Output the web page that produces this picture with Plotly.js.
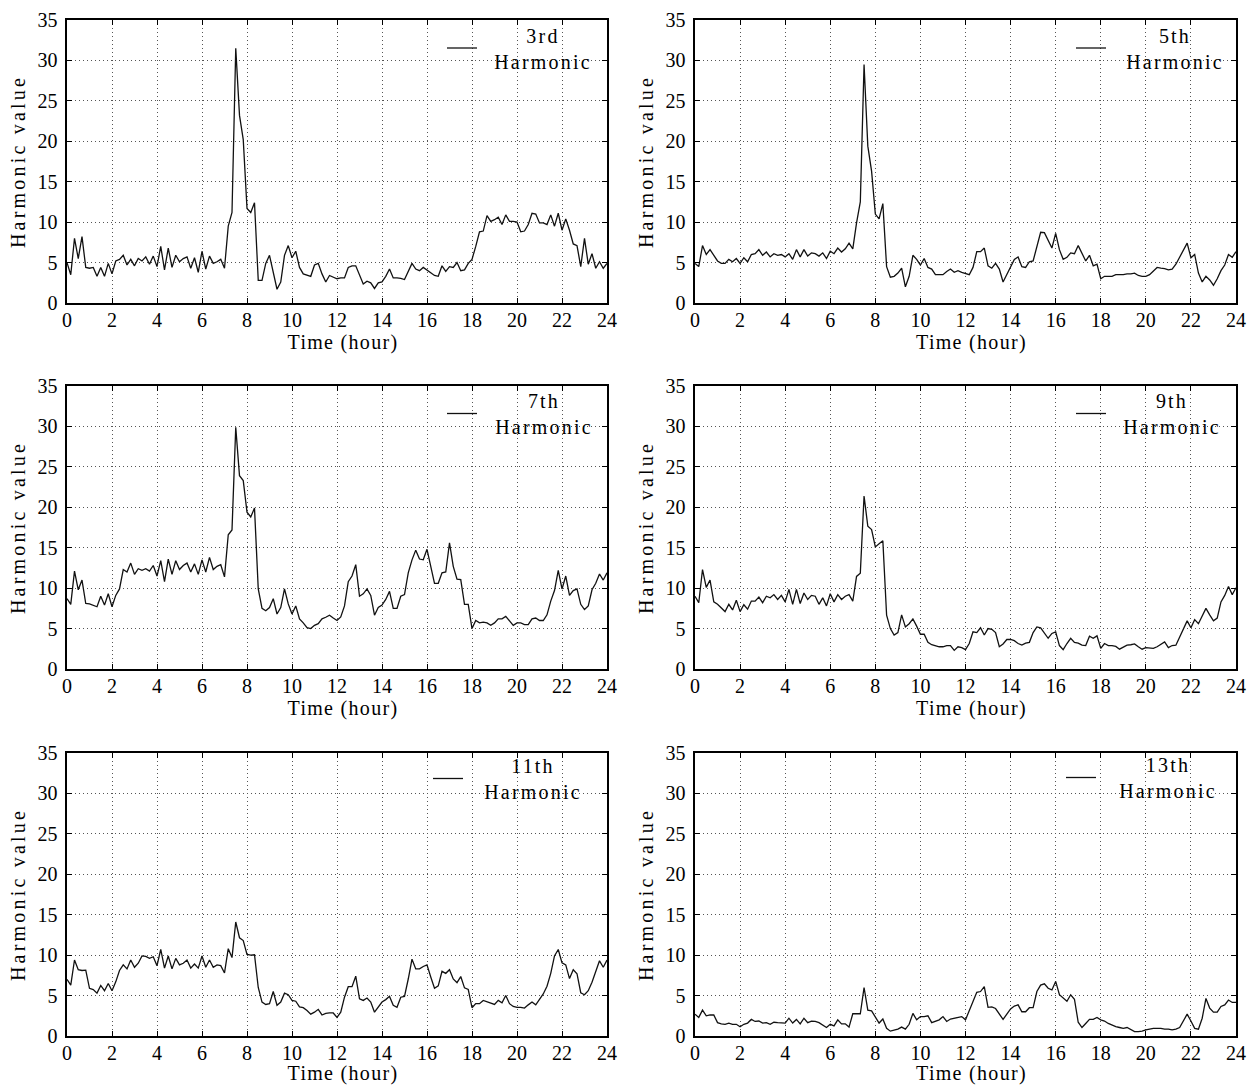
<!DOCTYPE html>
<html><head><meta charset="utf-8">
<script src="https://cdn.plot.ly/plotly-3.0.1.min.js"></script>
<style>
html,body{margin:0;padding:0;background:#fff}
#chart{width:1247px;height:1085px}
text[class^="x"][class$="title"]{letter-spacing:1.3px;transform:translateX(6px)}
text[class^="y"][class$="title"]{letter-spacing:3.2px}
</style></head><body><div id="chart"></div><script>
// time axis: 10-minute samples over 24 hours
const N = 145;
const hours = Array.from({length: N}, (_, i) => i / 6);

const names = ['3rd', '5th', '7th', '9th', '11th', '13th'];

const h3 = [5.0,3.5,8.0,5.5,8.2,4.4, 4.3,4.4,3.3,4.4,3.3,4.9,
 3.6,5.2,5.4,5.9,4.7,5.4, 4.6,5.5,5.2,5.7,4.8,5.8,
 4.5,7.0,4.1,6.8,4.4,5.9, 5.1,5.5,5.7,4.3,5.6,3.8,
 6.4,4.2,5.8,4.9,5.1,5.4, 4.3,9.5,11.2,31.5,23.2,20.2,
 11.7,11.2,12.4,2.8,2.8,4.9, 5.9,3.8,1.7,2.6,5.9,7.1,
 5.6,6.4,4.4,3.6,3.4,3.3, 4.7,4.9,3.6,2.6,3.4,3.2,
 3.0,3.1,3.1,4.4,4.6,4.6, 3.5,2.35,2.7,2.5,1.8,2.5,
 2.6,3.3,4.2,3.1,3.1,3.05, 2.9,3.9,4.9,4.2,4.0,4.4,
 4.1,3.8,3.4,3.3,4.6,3.9, 4.5,4.4,5.0,4.0,4.1,4.9,
 5.4,7.0,8.8,8.9,10.8,10.1, 10.3,10.6,9.7,10.9,10.1,10.1,
 10.0,8.8,8.9,9.7,11.1,11.0, 9.9,9.9,9.7,10.9,9.5,11.1,
 9.0,10.4,9.0,7.3,7.1,4.5, 8.0,4.8,6.1,4.3,5.1,4.3,
 4.9];

const h5 = [4.9,4.5,7.1,6.0,6.6,5.9, 5.2,4.9,4.9,5.4,5.1,5.5,
 4.9,5.6,5.1,6.0,6.1,6.6, 5.9,6.3,5.7,6.1,5.9,6.0,
 5.7,6.1,5.4,6.6,5.7,6.6, 5.8,6.2,6.1,5.8,6.2,5.5,
 6.4,6.1,6.8,6.3,6.7,7.4, 6.7,9.9,12.5,29.5,19.4,16.3,
 11.0,10.4,12.3,4.5,3.2,3.3, 3.7,4.3,2.0,3.3,5.9,5.4,
 4.7,5.5,4.4,4.2,3.5,3.5, 3.5,3.9,4.2,3.8,4.0,3.8,
 3.6,3.5,4.4,6.35,6.35,6.8, 4.6,4.3,4.9,4.2,2.6,3.5,
 4.6,5.4,5.7,4.5,4.4,5.1, 5.2,7.0,8.75,8.7,7.8,6.8,
 8.6,6.6,5.4,5.65,6.2,6.1, 7.1,6.1,5.2,5.9,4.6,4.8,
 3.0,3.3,3.3,3.3,3.5,3.5, 3.5,3.6,3.6,3.7,3.4,3.3,
 3.3,3.5,4.0,4.4,4.3,4.25, 4.1,4.2,4.8,5.7,6.4,7.4,
 5.6,6.0,3.7,2.6,3.3,2.85, 2.2,3.0,4.0,4.7,6.0,5.65,
 6.35];

const h7 = [8.7,8.0,12.1,9.8,11.0,8.1, 8.05,7.9,7.7,9.0,7.9,9.3,
 7.7,9.1,9.9,12.3,12.0,13.1, 11.7,12.4,12.2,12.4,12.1,12.8,
 11.5,13.4,10.8,13.6,11.7,13.4, 12.3,12.8,13.1,12.0,13.0,11.7,
 13.5,12.0,13.8,12.3,12.7,12.9, 11.4,16.6,17.2,29.9,23.9,23.3,
 19.4,18.8,19.9,9.9,7.5,7.2, 7.6,8.7,6.8,7.6,9.9,8.05,
 6.8,7.8,6.2,5.7,5.1,5.0, 5.4,5.6,6.2,6.4,6.65,6.3,
 6.0,6.45,7.8,10.8,11.5,12.9, 9.0,9.3,9.9,9.1,6.65,7.6,
 7.9,8.6,9.6,7.5,7.5,9.0, 9.2,11.9,13.5,14.7,13.6,13.5,
 14.8,12.7,10.6,10.6,11.9,12.0, 15.6,12.7,11.1,11.05,8.0,8.0,
 5.0,6.0,5.7,5.8,5.7,5.4, 5.7,6.2,6.2,6.5,5.9,5.4,
 5.7,5.7,5.5,5.5,6.2,6.3, 6.0,6.0,6.7,8.4,9.7,12.2,
 9.9,11.5,9.1,9.7,9.9,8.0, 7.35,7.8,9.8,10.6,11.75,11.0,
 11.9];

const h9 = [9.0,8.2,12.3,10.1,11.0,8.3, 8.0,7.5,7.1,8.0,7.3,8.5,
 7.1,7.95,7.4,8.4,8.4,8.9, 8.2,9.0,8.8,9.2,8.6,9.1,
 8.3,9.85,8.0,9.85,8.1,9.4, 8.6,9.1,9.0,8.0,8.8,7.8,
 9.3,8.3,9.2,8.6,9.0,9.2, 8.4,11.45,11.85,21.4,17.65,17.25,
 15.1,15.5,15.85,6.65,5.0,4.2, 4.5,6.7,5.2,5.6,6.2,5.3,
 4.3,4.3,3.3,3.0,2.9,2.75, 2.75,2.9,2.9,2.3,2.75,2.65,
 2.4,3.15,4.6,4.5,5.1,4.2, 5.0,4.9,4.5,2.75,3.1,3.65,
 3.65,3.5,3.15,2.95,3.2,3.3, 4.5,5.2,5.1,4.4,3.8,4.4,
 4.6,2.9,2.4,3.15,3.8,3.3, 3.2,2.95,2.9,4.05,3.8,4.1,
 2.55,3.15,2.9,2.9,2.8,2.45, 2.75,2.95,3.0,3.1,2.75,2.45,
 2.65,2.6,2.55,2.75,3.1,3.35, 2.65,2.9,2.95,3.9,5.0,5.95,
 5.1,6.1,5.6,6.65,7.5,6.7, 5.95,6.3,8.3,9.1,10.2,9.2,
 10.05];

const h11 = [7.0,6.3,9.4,8.2,8.1,8.15, 5.9,5.75,5.3,6.25,5.6,6.5,
 5.6,6.7,8.1,8.8,8.3,9.4, 8.5,9.0,9.9,9.85,9.6,9.8,
 8.7,10.7,8.4,9.9,8.3,9.6, 8.8,9.0,9.4,8.4,8.9,8.4,
 9.9,8.5,9.4,8.5,8.8,8.7, 7.8,10.8,9.7,14.1,12.15,11.8,
 10.1,10.0,10.05,6.0,4.2,3.9, 4.0,5.5,3.8,4.2,5.3,5.1,
 4.4,4.3,3.6,3.5,3.15,2.7, 2.95,3.3,2.6,2.8,2.85,2.85,
 2.3,2.95,4.8,6.1,6.1,7.4, 4.6,4.4,4.7,4.2,2.95,3.55,
 4.2,4.5,4.9,3.8,3.55,4.8, 4.9,7.05,9.5,8.3,8.3,8.6,
 8.8,7.3,5.9,6.2,8.0,7.75, 8.2,7.05,6.6,7.35,5.95,5.75,
 3.5,4.0,4.0,4.4,4.2,4.1, 3.9,4.4,4.1,5.0,4.0,3.65,
 3.55,3.55,3.45,3.85,4.2,3.85, 4.5,5.2,6.15,7.75,9.9,10.7,
 9.05,8.8,7.1,8.2,7.7,5.35, 5.1,5.6,6.65,8.0,9.3,8.5,
 9.4];

const h13 = [2.7,2.3,3.2,2.5,2.6,2.6, 1.65,1.5,1.45,1.6,1.45,1.45,
 1.15,1.45,1.6,2.05,1.8,1.85, 1.6,1.65,1.45,1.7,1.65,1.65,
 1.6,2.2,1.6,2.05,1.5,2.2, 1.65,1.85,1.8,1.65,1.35,1.05,
 1.45,1.25,2.0,1.5,1.5,1.1, 2.75,2.75,2.75,6.0,3.2,3.1,
 2.4,1.6,2.1,0.95,0.6,0.7, 0.85,1.1,0.85,1.45,2.8,2.0,
 2.4,2.4,2.5,1.65,1.8,2.0, 2.4,1.8,2.1,2.2,2.3,2.4,
 2.0,3.1,4.3,5.4,5.5,6.1, 3.55,3.6,3.4,2.8,2.05,2.7,
 3.35,3.7,3.85,3.0,3.0,3.5, 3.5,5.5,6.3,6.45,5.9,5.7,
 6.75,5.1,4.7,4.3,5.1,4.55, 1.7,1.05,1.55,2.05,2.05,2.3,
 2.0,1.85,1.55,1.3,1.15,1.05, 0.95,1.05,0.75,0.55,0.55,0.6,
 0.75,0.85,0.95,0.95,0.95,0.85, 0.85,0.75,0.85,1.05,1.85,2.7,
 1.85,0.95,0.85,2.2,4.65,3.45, 2.95,2.95,3.65,3.85,4.45,4.15,
 4.15];

const series = [h3, h5, h7, h9, h11, h13];

const FONT = 'Liberation Serif, Times New Roman, serif';
const W = 1247, H = 1085;
// plot-area boxes in pixels: [left, right, top, bottom]
const boxes = [
  [67, 607, 20, 303], [695, 1236, 20, 303],
  [67, 607, 386, 669], [695, 1236, 386, 669],
  [67, 607, 753, 1036], [695, 1236, 753, 1036]
];
// legend anchor (line start x, line y) in pixels, and text centre offset
const legendPos = [[447, 46.5], [1076, 46.5], [447, 412], [1076, 412], [433, 777], [1066, 776]];
const legendTextShift = [61, 64, 62, 61, 65, 67];

const traces = [];
const layout = {
  width: W, height: H,
  margin: {l: 0, r: 0, t: 0, b: 0},
  paper_bgcolor: '#fff', plot_bgcolor: '#fff',
  font: {family: FONT, size: 20, color: '#000'},
  showlegend: true
};

series.forEach((vals, k) => {
  const n = k + 1;
  const sx = n === 1 ? '' : String(n);
  const legName = n === 1 ? 'legend' : 'legend' + n;
  traces.push({
    x: hours, y: vals, type: 'scatter', mode: 'lines',
    line: {color: '#111', width: 1.3},
    name: names[k] + '<br>Harmonic',
    xaxis: 'x' + sx, yaxis: 'y' + sx,
    legend: legName, hoverinfo: 'skip'
  });
  const b = boxes[k];
  const common = {
    showline: true, linecolor: '#000', linewidth: 1.6, mirror: 'ticks',
    ticks: 'inside', ticklen: 5, tickwidth: 1, tickcolor: '#000',
    showgrid: true, gridcolor: '#555', gridwidth: 1, griddash: '1px,3px',
    zeroline: false, tickfont: {family: FONT, size: 20, color: '#000'},
    automargin: false, fixedrange: true
  };
  layout['xaxis' + sx] = Object.assign({}, common, {
    domain: [b[0] / W, b[1] / W], anchor: 'y' + sx,
    range: [0, 24], tick0: 0, dtick: 2, ticklabelstandoff: -2,
    title: {text: 'Time (hour)', font: {family: FONT, size: 20, color: '#000'}, standoff: 4}
  });
  layout['yaxis' + sx] = Object.assign({}, common, {
    domain: [1 - b[3] / H, 1 - b[2] / H], anchor: 'x' + sx,
    range: [0, 35], tick0: 0, dtick: 5, ticklabelstandoff: 4,
    title: {text: 'Harmonic value', font: {family: FONT, size: 20, color: '#000'}, standoff: 6}
  });
  const lp = legendPos[k];
  layout[legName] = {
    x: (lp[0] - 5) / W, y: 1 - (lp[1] - 31) / H,
    xanchor: 'left', yanchor: 'top',
    bgcolor: 'rgba(0,0,0,0)', borderwidth: 0,
    font: {family: FONT, size: 20, color: '#000'}
  };
});

// centre the two-line legend labels (as in the reference) and add tracking
function styleLegends() {
  document.querySelectorAll('#chart svg text').forEach(el => {
    const t = el.textContent || '';
    if (t.indexOf('Harmonic') >= 0 && t.indexOf('value') < 0) {
      let k = names.findIndex(nm => t.indexOf(nm + 'Harmonic') === 0);
      if (k < 0) k = names.findIndex(nm => t.indexOf(nm) === 0);
      const shift = k >= 0 ? legendTextShift[k] : 61;
      el.setAttribute('text-anchor', 'middle');
      el.style.setProperty('text-anchor', 'middle', 'important');
      el.style.setProperty('letter-spacing', '2.2px');
      el.setAttribute('transform', 'translate(' + shift + ',0)');
      let p = el.parentNode;
      while (p && p.tagName && p.tagName.toLowerCase() !== 'svg') {
        if (p.getAttribute && p.getAttribute('clip-path')) p.removeAttribute('clip-path');
        p = p.parentNode;
      }
    }
  });
}

Plotly.newPlot('chart', traces, layout, {staticPlot: true, displayModeBar: false})
  .then(styleLegends);
</script></body></html>
